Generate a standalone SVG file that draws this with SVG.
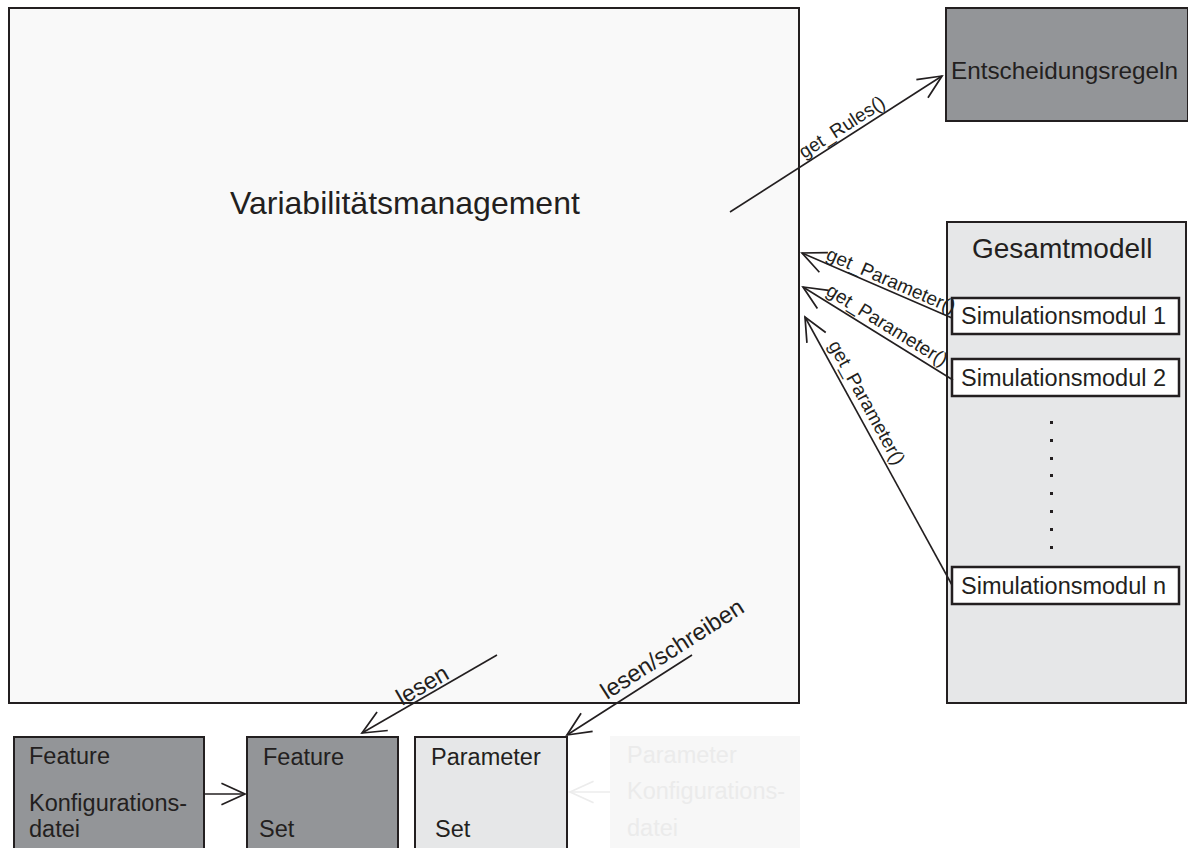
<svg xmlns="http://www.w3.org/2000/svg" width="1188" height="848" viewBox="0 0 1188 848">
  <defs>
    <style>
      .box { stroke: #231f20; stroke-width: 2; }
      .dark { fill: #939598; }
      .light { fill: #e6e7e8; }
      .main { fill: #f9f9f9; }
      .mod { fill: #ffffff; stroke: #231f20; stroke-width: 2.5; }
      .faded { fill: #f7f7f7; }
      text { font-family: "Liberation Sans", Arial, sans-serif; fill: #231f20; }
      .t32 { font-size: 32px; }
      .t28 { font-size: 28px; }
      .t24 { font-size: 24.3px; }
      .t23 { font-size: 23.5px; }
      .lbl { font-size: 19px; }
      .lbl2 { font-size: 23.5px; }
      .fadedtxt { fill: #ebebeb; }
      .conn { fill: none; stroke: #231f20; stroke-width: 1.6; }
      .connfaded { fill: none; stroke: #ececec; stroke-width: 1.6; }
    </style>
    <marker id="open" markerUnits="userSpaceOnUse" markerWidth="30" markerHeight="30" viewBox="-25 -13 28 26" refX="0" refY="0" orient="auto">
      <path d="M-22,-10 L0,0 L-22,10" fill="none" stroke="#231f20" stroke-width="1.6"/>
    </marker>
    <marker id="openFaded" markerUnits="userSpaceOnUse" markerWidth="30" markerHeight="30" viewBox="-25 -13 28 26" refX="0" refY="0" orient="auto">
      <path d="M-22,-10 L0,0 L-22,10" fill="none" stroke="#ececec" stroke-width="1.6"/>
    </marker>
  </defs>

  <rect width="1188" height="848" fill="#ffffff"/>

  <g id="variabilitaetsmanagement">
    <rect class="box main" x="9" y="8" width="790" height="695"/>
    <text class="t32" x="230" y="214">Variabilitätsmanagement</text>
  </g>

  <g id="entscheidungsregeln">
    <rect class="box dark" x="946" y="8" width="242" height="113"/>
    <text class="t24" x="951" y="79">Entscheidungsregeln</text>
  </g>

  <g id="gesamtmodell">
    <rect class="box light" x="947" y="222" width="239" height="481"/>
    <text class="t28" x="972" y="258">Gesamtmodell</text>
    <g fill="#231f20">
      <rect x="1050" y="421" width="3" height="3"/>
      <rect x="1050" y="439" width="3" height="3"/>
      <rect x="1050" y="457" width="3" height="3"/>
      <rect x="1050" y="474" width="3" height="3"/>
      <rect x="1050" y="492" width="3" height="3"/>
      <rect x="1050" y="510" width="3" height="3"/>
      <rect x="1050" y="528" width="3" height="3"/>
      <rect x="1050" y="546" width="3" height="3"/>
    </g>
  </g>

  <g id="simulationsmodul-1">
    <rect class="mod" x="952" y="298" width="227" height="36"/>
    <text class="t23" x="961" y="324">Simulationsmodul 1</text>
  </g>
  <g id="simulationsmodul-2">
    <rect class="mod" x="952" y="359" width="227" height="37"/>
    <text class="t23" x="961" y="386">Simulationsmodul 2</text>
  </g>
  <g id="simulationsmodul-n">
    <rect class="mod" x="952" y="567" width="227" height="37"/>
    <text class="t23" x="961" y="594">Simulationsmodul n</text>
  </g>

  <g id="feature-konfigurationsdatei">
    <rect class="box dark" x="14" y="737" width="190" height="125"/>
    <text class="t23" x="29" y="764">Feature</text>
    <text class="t23" x="29" y="811">Konfigurations-</text>
    <text class="t23" x="29" y="837">datei</text>
  </g>

  <g id="feature-set">
    <rect class="box dark" x="247" y="737" width="151" height="125"/>
    <text class="t23" x="263" y="765">Feature</text>
    <text class="t23" x="259" y="837">Set</text>
  </g>

  <g id="parameter-set">
    <rect class="box light" x="415" y="737" width="152" height="125"/>
    <text class="t23" x="431" y="765">Parameter</text>
    <text class="t23" x="435" y="837">Set</text>
  </g>

  <g id="parameter-konfigurationsdatei">
    <rect class="faded" x="610" y="736" width="190" height="126"/>
    <text class="t23 fadedtxt" x="627" y="763">Parameter</text>
    <text class="t23 fadedtxt" x="627" y="799">Konfigurations-</text>
    <text class="t23 fadedtxt" x="627" y="836">datei</text>
  </g>

  <g id="connectors">
    <line class="conn" x1="730" y1="212" x2="942" y2="76" marker-end="url(#open)"/>
    <text class="lbl" transform="translate(804,159) rotate(-32.7)">get_Rules()</text>

    <line class="conn" x1="952" y1="318" x2="802" y2="253" marker-end="url(#open)"/>
    <text class="lbl" transform="translate(825,259) rotate(23.4)">get_Parameter()</text>

    <line class="conn" x1="953" y1="380" x2="803" y2="287" marker-end="url(#open)"/>
    <text class="lbl" transform="translate(825,294) rotate(31.8)">get_Parameter()</text>

    <line class="conn" x1="952" y1="585" x2="805" y2="317" marker-end="url(#open)"/>
    <text class="lbl" transform="translate(828,345) rotate(61.3)">get_Parameter()</text>

    <line class="conn" x1="497" y1="655" x2="362" y2="733" marker-end="url(#open)"/>
    <text class="lbl2" transform="translate(402,706) rotate(-30)">lesen</text>

    <line class="conn" x1="692" y1="655" x2="567" y2="735" marker-end="url(#open)"/>
    <text class="lbl2" transform="translate(607,700) rotate(-32.6)">lesen/schreiben</text>

    <line class="conn" x1="204" y1="794" x2="245" y2="794" marker-end="url(#open)"/>
    <line class="connfaded" x1="610" y1="792" x2="570" y2="792" marker-end="url(#openFaded)"/>
  </g>
</svg>
